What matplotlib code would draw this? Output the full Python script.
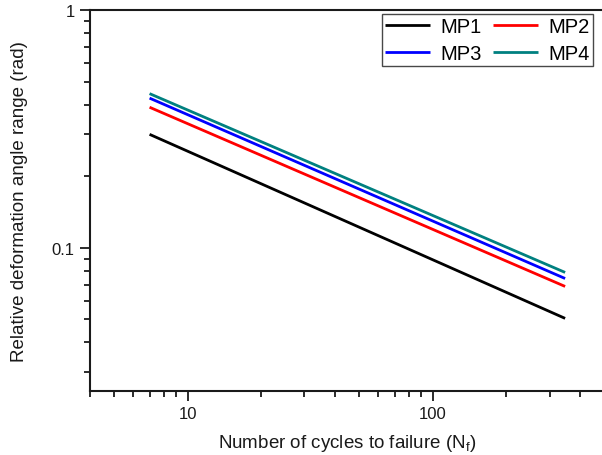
import matplotlib
matplotlib.use("Agg")
import matplotlib.pyplot as plt
from matplotlib.ticker import LogLocator, NullFormatter, FixedLocator, FixedFormatter

plt.rcParams['font.family'] = ['Liberation Sans', 'DejaVu Sans']
plt.rcParams['mathtext.fontset'] = 'custom'
plt.rcParams['mathtext.rm'] = 'Liberation Sans'

# Fitted fatigue-life lines: end points (cycles, relative deformation angle range)
cycles = [7, 347]
series_names = ["MP1", "MP2", "MP3", "MP4"]
mp1 = [0.300, 0.0505]
mp2 = [0.390, 0.0688]
mp3 = [0.426, 0.0743]
mp4 = [0.445, 0.0788]
colors = ["#000000", "#ff0000", "#0000ff", "#008080"]

fig = plt.figure(figsize=(6.02, 4.56), dpi=100)
W, H = 602, 456
left, right, top, bottom = 90, 604, 11, 392
ax = fig.add_axes([left / W, 1 - bottom / H, (right - left) / W, (bottom - top) / H])

handles = {}
for name, vals, c in zip(series_names, [mp1, mp2, mp3, mp4], colors):
    (h,) = ax.plot(cycles, vals, color=c, lw=2.0, label=name, solid_capstyle='butt')
    handles[name] = h

ax.set_xscale('log')
ax.set_yscale('log')
ax.set_xlim(4, 500)
ax.set_ylim(0.025, 1)

ax.yaxis.set_major_locator(FixedLocator([0.1, 1]))
ax.yaxis.set_major_formatter(FixedFormatter(["0.1", "1"]))
ax.yaxis.set_minor_locator(LogLocator(base=10, subs=range(2, 10)))
ax.yaxis.set_minor_formatter(NullFormatter())
ax.xaxis.set_major_locator(FixedLocator([10, 100]))
ax.xaxis.set_major_formatter(FixedFormatter(["10", "100"]))
ax.xaxis.set_minor_locator(LogLocator(base=10, subs=range(2, 10)))
ax.xaxis.set_minor_formatter(NullFormatter())

ink = '#1a1a1a'
for s in ['left', 'bottom', 'top']:
    ax.spines[s].set_linewidth(1.5)
    ax.spines[s].set_color(ink)
ax.spines['right'].set_visible(False)

ax.tick_params(which='major', direction='out', length=7, width=1.3, labelsize=12,
               colors=ink, labelcolor=ink, pad=4)
ax.tick_params(which='minor', direction='out', length=4, width=1.3, colors=ink)
ax.tick_params(top=False, right=False, which='both')

ax.set_xlabel(r"Number of cycles to failure (N$_\mathregular{f}$)", fontsize=13.5, color=ink, labelpad=8)
ax.set_ylabel("Relative deformation angle range (rad)", fontsize=13.5, color=ink, labelpad=17)

# two-column legend filled row by row: MP1 MP2 / MP3 MP4
order = ["MP1", "MP3", "MP2", "MP4"]
leg = ax.legend([handles[n] for n in order], order, ncol=2, loc='upper right',
                bbox_to_anchor=((593 - left) / (right - left), 1 - 4 / (bottom - top)),
                fontsize=14.5, frameon=True, fancybox=False, edgecolor=ink, handlelength=2.2,
                handletextpad=0.55, columnspacing=0.55, borderpad=0.15, labelspacing=0.4,
                borderaxespad=0)
leg.get_frame().set_linewidth(1.0)

fig.savefig("out.png", dpi=100)
